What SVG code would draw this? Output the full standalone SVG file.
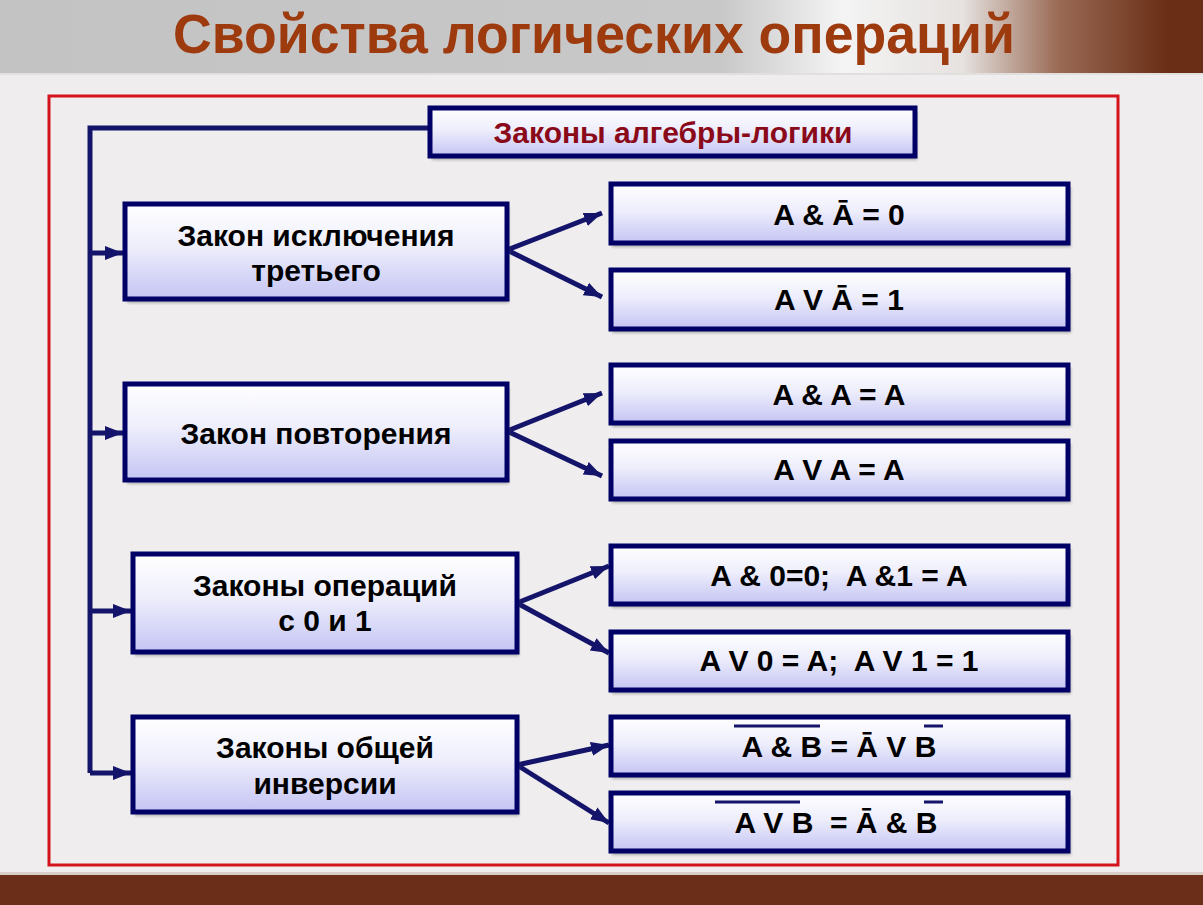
<svg xmlns="http://www.w3.org/2000/svg" width="1203" height="905" viewBox="0 0 1203 905">
<defs>
<linearGradient id="hdr" x1="0" y1="0" x2="1" y2="0">
<stop offset="0" stop-color="#c4c3c3"/>
<stop offset="0.6" stop-color="#c9c8c8"/>
<stop offset="0.7" stop-color="#f4f4f4"/>
<stop offset="0.8" stop-color="#e6e2e0"/>
<stop offset="0.88" stop-color="#9a6a55"/>
<stop offset="0.97" stop-color="#6a2e16"/>
</linearGradient>
<linearGradient id="box" x1="0" y1="0" x2="0" y2="1">
<stop offset="0" stop-color="#ffffff"/>
<stop offset="0.45" stop-color="#eeeefc"/>
<stop offset="1" stop-color="#c4c4f4"/>
</linearGradient>
<marker id="arr" markerUnits="userSpaceOnUse" markerWidth="22" markerHeight="18" refX="18" refY="9" orient="auto">
<path d="M0,2 L18,9 L0,16 Z" fill="#14146a"/>
</marker>
<filter id="sh" x="-5%" y="-10%" width="115%" height="130%">
<feGaussianBlur stdDeviation="1.5"/>
</filter>
</defs>
<style>
.bx{fill:url(#box);stroke:#000066;stroke-width:5}
.shd{fill:#7a7a7a;opacity:0.55;filter:url(#sh)}
.t{font-family:"Liberation Sans",Arial,sans-serif;font-weight:bold;font-size:30px;fill:#000;text-anchor:middle}
.c{fill:none;stroke:#14146a;stroke-width:5}
.ol{stroke:#14146a;stroke-width:3}
</style>
<rect x="0" y="0" width="1203" height="905" fill="#efeded"/>
<rect x="0" y="0" width="1203" height="73" fill="url(#hdr)"/>
<rect x="0" y="73" width="1203" height="2" fill="#e2e0df"/>
<text x="594" y="53" font-family="'Liberation Sans',Arial,sans-serif" font-weight="bold" font-size="56" fill="#9d3a0e" text-anchor="middle" textLength="842" lengthAdjust="spacingAndGlyphs">Свойства логических операций</text>
<rect x="0" y="872" width="1203" height="3" fill="#d8cfc9"/>
<rect x="0" y="875" width="1203" height="30" fill="#6b2e18"/>
<rect x="49" y="96" width="1069" height="769" fill="none" stroke="#d4121c" stroke-width="3"/>

<g id="connectors">
<polyline class="c" points="430,128 90,128 90,773"/>
<line class="c" x1="90" y1="253" x2="123" y2="253" marker-end="url(#arr)"/>
<line class="c" x1="90" y1="433" x2="123" y2="433" marker-end="url(#arr)"/>
<line class="c" x1="90" y1="611" x2="131" y2="611" marker-end="url(#arr)"/>
<line class="c" x1="90" y1="773" x2="131" y2="773" marker-end="url(#arr)"/>
<line class="c" x1="507" y1="250" x2="602" y2="213" marker-end="url(#arr)"/>
<line class="c" x1="507" y1="250" x2="602" y2="297" marker-end="url(#arr)"/>
<line class="c" x1="507" y1="431" x2="602" y2="393" marker-end="url(#arr)"/>
<line class="c" x1="507" y1="431" x2="602" y2="476" marker-end="url(#arr)"/>
<line class="c" x1="517" y1="603" x2="609" y2="566" marker-end="url(#arr)"/>
<line class="c" x1="517" y1="603" x2="609" y2="653" marker-end="url(#arr)"/>
<line class="c" x1="517" y1="765" x2="609" y2="745" marker-end="url(#arr)"/>
<line class="c" x1="517" y1="765" x2="609" y2="823" marker-end="url(#arr)"/>
</g>

<g id="root">
<rect class="shd" x="432" y="112" width="485" height="48"/>
<rect class="bx" x="430" y="108" width="485" height="48"/>
<text x="673" y="143" font-family="'Liberation Sans',Arial,sans-serif" font-weight="bold" font-size="30" fill="#8b0a1a" text-anchor="middle">Законы алгебры-логики</text>
</g>

<g id="law1">
<rect class="shd" x="127" y="207" width="382" height="96"/>
<rect class="bx" x="125" y="204" width="382" height="95"/>
<text class="t" x="316" y="246">Закон исключения</text>
<text class="t" x="316" y="281">третьего</text>
</g>
<g id="law2">
<rect class="shd" x="127" y="387" width="382" height="97"/>
<rect class="bx" x="125" y="384" width="382" height="96"/>
<text class="t" x="316" y="444">Закон повторения</text>
</g>
<g id="law3">
<rect class="shd" x="135" y="557" width="384" height="99"/>
<rect class="bx" x="133" y="554" width="384" height="98"/>
<text class="t" x="325" y="596">Законы операций</text>
<text class="t" x="325" y="631">с 0 и 1</text>
</g>
<g id="law4">
<rect class="shd" x="135" y="720" width="384" height="96"/>
<rect class="bx" x="133" y="717" width="384" height="95"/>
<text class="t" x="325" y="758">Законы общей</text>
<text class="t" x="325" y="794">инверсии</text>
</g>

<g id="f1">
<rect class="shd" x="612" y="187" width="459" height="60"/>
<rect class="bx" x="611" y="184" width="457" height="59"/>
<text class="t" x="839" y="225">A &amp; Ā = 0</text>
</g>
<g id="f2">
<rect class="shd" x="612" y="273" width="459" height="60"/>
<rect class="bx" x="611" y="270" width="457" height="59"/>
<text class="t" x="839" y="310">A V Ā = 1</text>
</g>
<g id="f3">
<rect class="shd" x="612" y="368" width="459" height="59"/>
<rect class="bx" x="611" y="365" width="457" height="58"/>
<text class="t" x="839" y="405">A &amp; A = A</text>
</g>
<g id="f4">
<rect class="shd" x="612" y="444" width="459" height="59"/>
<rect class="bx" x="611" y="441" width="457" height="58"/>
<text class="t" x="839" y="480">A V A = A</text>
</g>
<g id="f5">
<rect class="shd" x="612" y="549" width="459" height="59"/>
<rect class="bx" x="611" y="546" width="457" height="58"/>
<text class="t" x="839" y="586" xml:space="preserve">A &amp; 0=0;  A &amp;1 = A</text>
</g>
<g id="f6">
<rect class="shd" x="612" y="635" width="459" height="59"/>
<rect class="bx" x="611" y="632" width="457" height="58"/>
<text class="t" x="839" y="671" xml:space="preserve">A V 0 = A;  A V 1 = 1</text>
</g>
<g id="f7">
<rect class="shd" x="612" y="720" width="459" height="59"/>
<rect class="bx" x="611" y="717" width="457" height="58"/>
<text class="t" x="839" y="757">A &amp; B = Ā V B</text>
<line class="ol" x1="734" y1="726" x2="820" y2="726"/>
<line class="ol" x1="924" y1="726" x2="943" y2="726"/>
</g>
<g id="f8">
<rect class="shd" x="612" y="796" width="459" height="59"/>
<rect class="bx" x="611" y="793" width="457" height="58"/>
<text class="t" x="836" y="833" xml:space="preserve">A V B  = Ā &amp; B</text>
<line class="ol" x1="715" y1="802" x2="800" y2="802"/>
<line class="ol" x1="924" y1="802" x2="943" y2="802"/>
</g>
</svg>
